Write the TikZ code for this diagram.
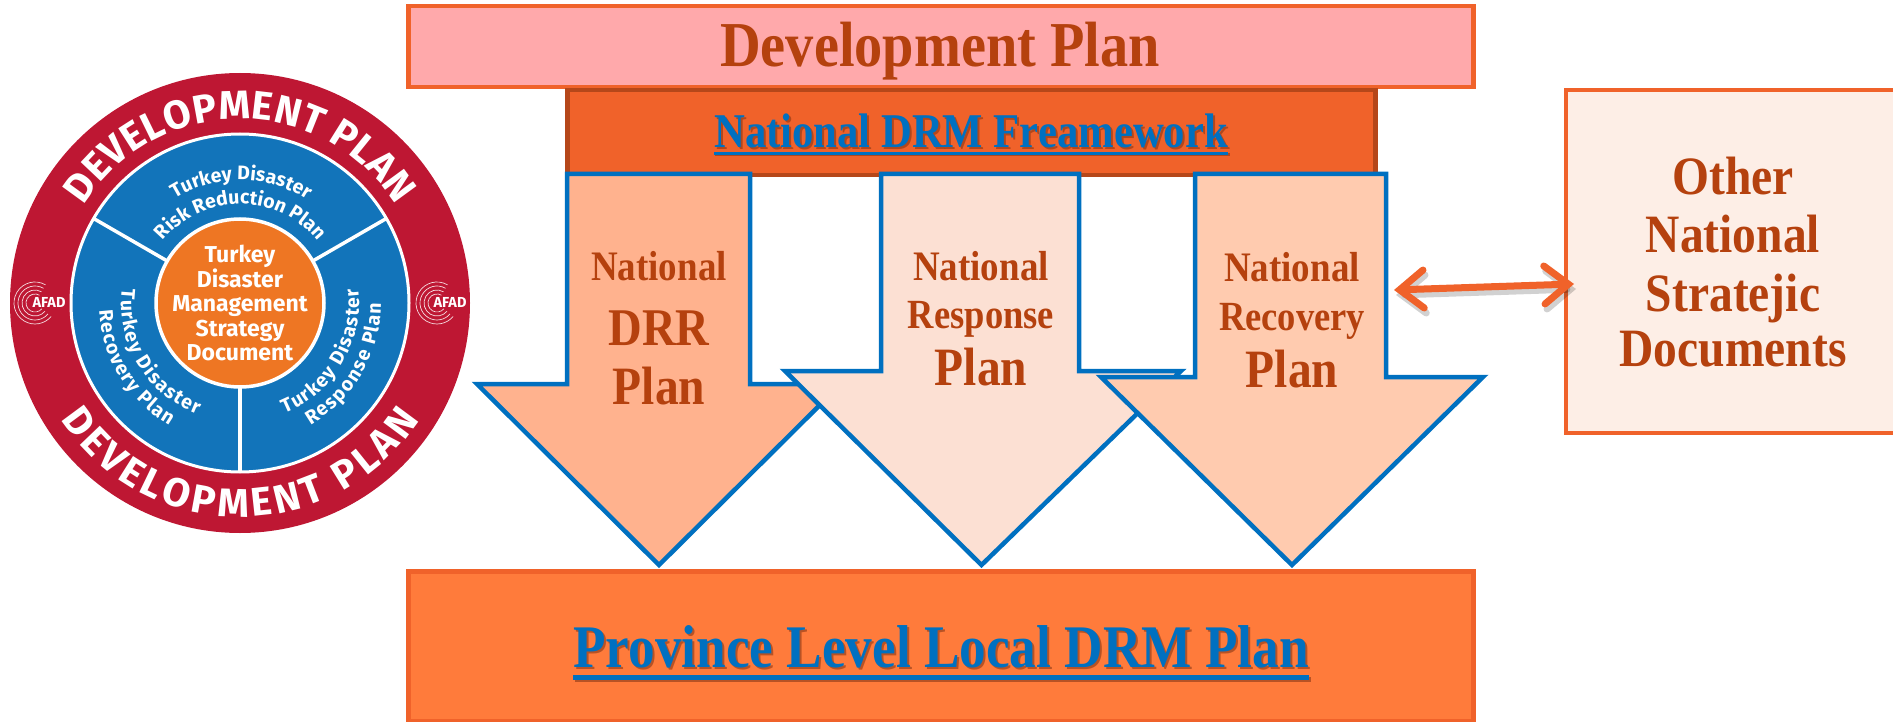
\documentclass[tikz,border=0pt]{standalone}
\usepackage{fontspec}
\usetikzlibrary{decorations.text,arrows.meta}
\setmainfont{Liberation Serif}
\newfontfamily\serc[FakeStretch=.88]{Liberation Serif}
\newfontfamily\din{Fira Sans}
\definecolor{txt}{HTML}{B5410E}
\definecolor{blu}{HTML}{0070C0}
\definecolor{org}{HTML}{F0622A}
\definecolor{drk}{HTML}{B5471A}
\definecolor{pinkf}{HTML}{FFA9AB}
\definecolor{provf}{HTML}{FF7B3B}
\definecolor{aa}{HTML}{FFB28E}
\definecolor{ab}{HTML}{FCE0D3}
\definecolor{ac}{HTML}{FFCBAF}
\definecolor{othf}{HTML}{FDEEE6}
\definecolor{cred}{HTML}{BE1733}
\definecolor{cblu}{HTML}{1274BA}
\definecolor{corg}{HTML}{EE7623}
\newcommand{\fs}[1]{\fontsize{#1}{#1}\selectfont\serc\bfseries}
\newcommand{\arctext}[5]{% radius, from, to, size, text
  \path[decorate,decoration={text along path,text align={fit to path},
    text={|\din\bfseries\fontsize{#4}{#4}\selectfont\color{white}|#5}}] (#2:#1) arc (#2:#3:#1);}
\tikzset{
  boxn/.style={draw,line width=4.5pt,inner sep=0pt,anchor=north west},
  lab/.style={text=txt,anchor=base,inner sep=0pt},
  blab/.style={text=blu,anchor=base,inner sep=0pt},
  shad/.style={text=drk!70!black,opacity=.55,anchor=base,inner sep=0pt},
  plan/.style={draw=blu,line width=4.5pt,miter limit=10},
  ulin/.style={draw=blu,line cap=butt},
  ulsh/.style={draw=drk!70!black,opacity=.55},
  dbl/.style={{Straight Barb[length=24pt,width=38pt,line cap=round]}-{Straight Barb[length=24pt,width=38pt,line cap=round]},line width=7pt,line cap=round},
  cw/.style={text=white,font=\din\bfseries\fontsize{23}{24.5}\selectfont,align=center,inner sep=0pt},
  afad/.style={text=white,font=\din\bfseries\fontsize{14.5}{14.5}\selectfont,inner sep=0pt},
  ring/.style={draw=white,line width=.7pt,opacity=.85},
  dv/.style={draw=white,line width=3.5pt}
}
\begin{document}
\begin{tikzpicture}[x=1pt,y=-1pt]
\useasboundingbox (0,0) rectangle (1893,722);
% top boxes
\node[boxn,draw=org,fill=pinkf,minimum width=1065pt,minimum height=81pt] (dev) at (406,4) {};
\node[lab,font=\fs{64}] (devt) at (940,67) {Development Plan};
\node[boxn,draw=drk,fill=org,minimum width=808pt,minimum height=85pt] (fw) at (565,88) {};
\node[shad,font=\fs{48.5}] at (973,150) {National DRM Freamework};
\node[blab,font=\fs{48.5}] (fwt) at (971,148) {National DRM Freamework};
\draw[ulsh,line width=3pt] ([shift={(1.5pt,-7pt)}]fwt.base west) -- ([shift={(1.5pt,-7pt)}]fwt.base east);
\draw[ulin,line width=3pt] ([yshift=-5.5pt]fwt.base west) -- ([yshift=-5.5pt]fwt.base east);
% plan arrows
\path[plan,fill=aa] (567,174) -- (750,174) -- (750,384) -- (841,384) -- (659,565) -- (477,384) -- (567,384) -- cycle;
\path[plan,fill=ab] (881,174) -- (1079,174) -- (1079,371) -- (1181,371) -- (981.5,565) -- (785,371) -- (881,371) -- cycle;
\path[plan,fill=ac] (1195,174) -- (1386,174) -- (1386,377) -- (1483,377) -- (1292,565) -- (1101,377) -- (1195,377) -- cycle;
\node[lab,font=\fs{42}] (a1) at (659,280) {National};
\node[lab,font=\fs{53}] (a2) at (659,345) {DRR};
\node[lab,font=\fs{54}] (a3) at (659,404) {Plan};
\node[lab,font=\fs{42}] (b1) at (981,280) {National};
\node[lab,font=\fs{41.5}] (b2) at (981,328) {Response};
\node[lab,font=\fs{54}] (b3) at (981,385) {Plan};
\node[lab,font=\fs{42}] (c1) at (1292,281) {National};
\node[lab,font=\fs{41.5}] (c2) at (1292,330) {Recovery};
\node[lab,font=\fs{54}] (c3) at (1292,387) {Plan};
% province
\node[boxn,draw=org,fill=provf,minimum width=1065pt,minimum height=150pt] (prov) at (406,569) {};
\node[shad,font=\fs{60.5}] at (943,669) {Province Level Local DRM Plan};
\node[blab,font=\fs{60.5}] (provt) at (941,667) {Province Level Local DRM Plan};
\draw[ulsh,line width=5pt] ([shift={(2pt,-12pt)}]provt.base west) -- ([shift={(2pt,-12pt)}]provt.base east);
\draw[ulin,line width=5pt] ([yshift=-10pt]provt.base west) -- ([yshift=-10pt]provt.base east);
% other documents
\fill[othf] (1566,90) rectangle (1893,433);
\draw[org,line width=4.5pt] (1893,90) -- (1566,90) -- (1566,433) -- (1893,433);
\node[lab,font=\fs{54}] (o1) at (1733,195) {Other};
\node[lab,font=\fs{54}] (o2) at (1733,252) {National};
\node[lab,font=\fs{54}] (o3) at (1733,311) {Stratejic};
\node[lab,font=\fs{54}] (o4) at (1733,366) {Documents};
% double arrow
\coordinate (dl) at (1394,290);
\coordinate (dr) at (1574,284);
\draw[dbl,draw=black,opacity=.18] ([shift={(2pt,-5pt)}]dl) -- ([shift={(2pt,-5pt)}]dr);
\draw[dbl,draw=org] (dl) -- (dr);
% emblem
\begin{scope}[shift={(240,303)},x=1pt,y=1pt]
  \fill[cred] (0,0) circle (230);
  \draw[fill=cblu,draw=white,line width=3pt] (0,0) circle (169);
  \foreach \a in {30,150,270}{\draw[dv] (\a:84) -- (\a:169);}
  \draw[fill=corg,draw=white,line width=3.5pt] (0,0) circle (84);
  \arctext{184}{148}{32}{40}{DEVELOPMENT PLAN}
  \arctext{214}{213}{327}{40}{DEVELOPMENT PLAN}
  \arctext{123}{122}{58}{19.5}{Turkey Disaster}
  \arctext{99}{141}{39}{19.5}{Risk Reduction Plan}
  \arctext{119}{-68}{7}{19.5}{Turkey Disaster}
  \arctext{141}{-60}{0}{19.5}{Response Plan}
  \arctext{119}{173}{249}{19.5}{Turkey Disaster}
  \arctext{141}{183}{240}{19.5}{Recovery Plan}
  \node[cw] (core) at (0,0) {Turkey\\Disaster\\Management\\Strategy\\Document};
  \foreach \r in {9,13,17,21}{
    \draw[ring] (-205,0) ++(60:\r) arc (60:320:\r);
    \draw[ring] (197,0) ++(60:\r) arc (60:320:\r);
  }
  \node[afad] (afl) at (-191,1) {AFAD};
  \node[afad] (afr) at (210,1) {AFAD};
\end{scope}
\end{tikzpicture}
\end{document}
